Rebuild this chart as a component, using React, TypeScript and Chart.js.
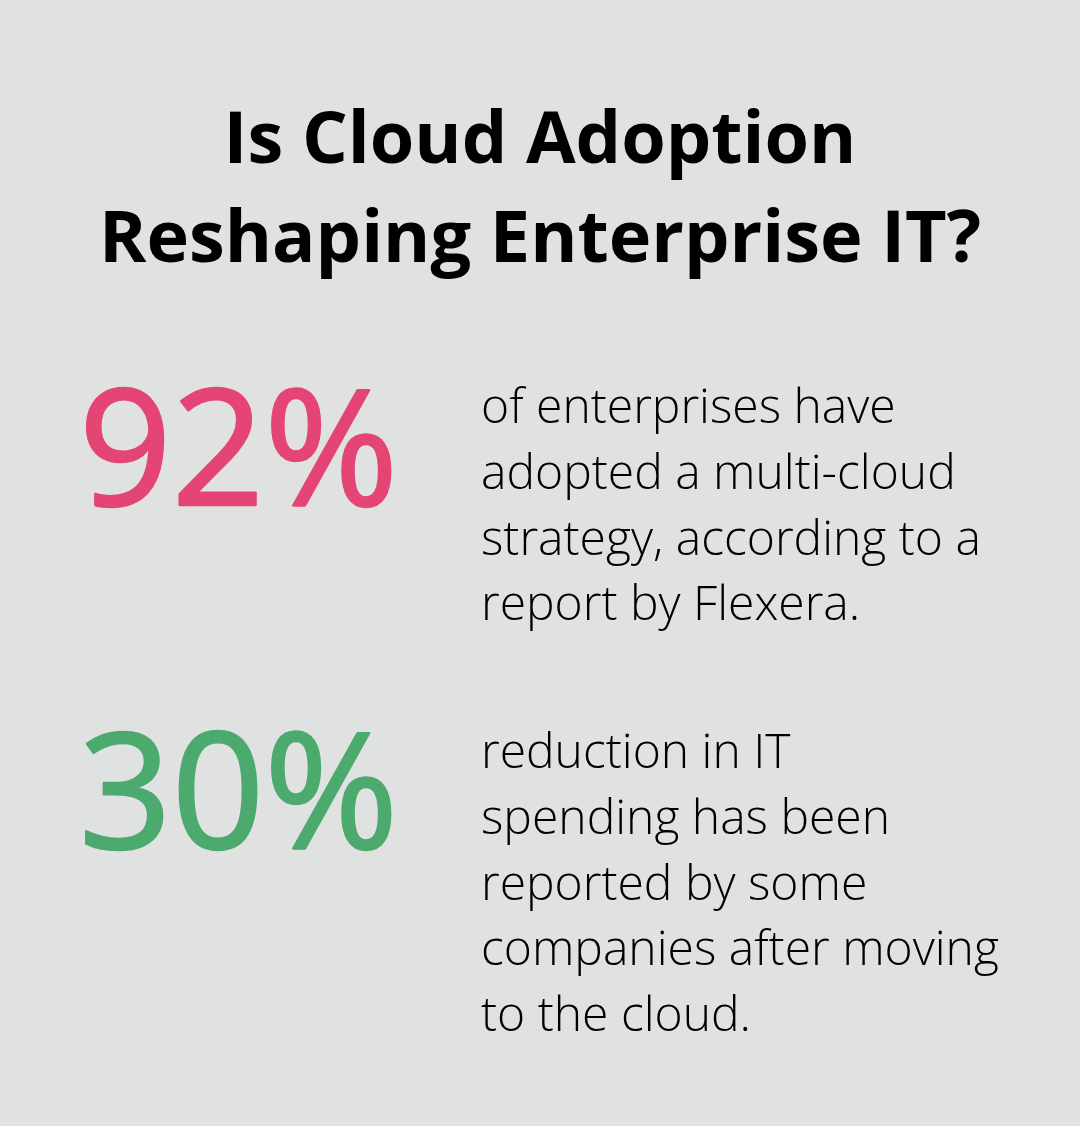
import React, { useEffect, useRef } from "react";
import { Chart, registerables } from "chart.js";

Chart.register(...registerables);

const TITLE_LINES: string[] = ["Is Cloud Adoption", "Reshaping Enterprise IT?"];
const STAT_VALUES: number[] = [92, 30];
const STAT_UNITS: string[] = ["%", "%"];
const STAT_COLORS: string[] = ["#e44574", "#4caa6e"];
const STAT_DESCRIPTIONS: string[][] = [
  ["of enterprises have", "adopted a multi-cloud", "strategy, according to a", "report by Flexera."],
  ["reduction in IT", "spending has been", "reported by some", "companies after moving", "to the cloud."],
];

const W = 1080;
const H = 1126;
const BG = "#e0e2e1";

const infographicPlugin = {
  id: "infographic",
  beforeDraw(chart: any) {
    const ctx = chart.ctx as CanvasRenderingContext2D;
    ctx.save();
    ctx.fillStyle = BG;
    ctx.fillRect(0, 0, chart.width, chart.height);
    ctx.restore();
  },
  afterDraw(chart: any) {
    const ctx = chart.ctx as CanvasRenderingContext2D;
    ctx.save();
    // Title
    ctx.fillStyle = "#000000";
    ctx.textAlign = "center";
    ctx.textBaseline = "alphabetic";
    ctx.font = "700 72px 'Open Sans'";
    const titleBase = [163, 262];
    TITLE_LINES.forEach((t, i) => ctx.fillText(t, W / 2, titleBase[i]));

    // Stats
    const statBase = [505, 848];
    const descStart = [423, 768];
    const lineGap = 65.8;
    STAT_VALUES.forEach((v, i) => {
      ctx.textAlign = "left";
      ctx.fillStyle = STAT_COLORS[i];
      ctx.strokeStyle = STAT_COLORS[i];
      ctx.lineWidth = 2.5;
      ctx.lineJoin = "round";
      ctx.font = "500 162px 'Open Sans'";
      const label = `${v}${STAT_UNITS[i]}`;
      ctx.fillText(label, 79, statBase[i]);
      ctx.strokeText(label, 79, statBase[i]);
      ctx.fillStyle = "#000000";
      ctx.font = "300 48px 'Open Sans'";
      STAT_DESCRIPTIONS[i].forEach((line, j) => {
        ctx.fillText(line, 481, descStart[i] + j * lineGap);
      });
    });
    ctx.restore();
  },
};

export default function App() {
  const canvasRef = useRef<HTMLCanvasElement | null>(null);

  useEffect(() => {
    document.body.style.margin = "0";
    document.body.style.background = BG;
    let chart: Chart | null = null;
    let cancelled = false;
    const make = () => {
      if (cancelled || !canvasRef.current) return;
      chart = new Chart(canvasRef.current, {
        type: "bar",
        data: { labels: [], datasets: [] },
        options: {
          animation: false,
          responsive: false,
          maintainAspectRatio: false,
          devicePixelRatio: 1,
          layout: { padding: 0 },
          plugins: { legend: { display: false }, tooltip: { enabled: false }, title: { display: false } },
          scales: { x: { display: false }, y: { display: false } },
        },
        plugins: [infographicPlugin],
      });
    };
    const fonts = (document as any).fonts;
    if (fonts && fonts.load) {
      Promise.all([
        fonts.load("700 72px 'Open Sans'"),
        fonts.load("500 162px 'Open Sans'"),
        fonts.load("300 48px 'Open Sans'"),
      ])
        .catch(() => {})
        .then(make);
    } else {
      make();
    }
    return () => {
      cancelled = true;
      if (chart) chart.destroy();
    };
  }, []);

  return (
    <div style={{ width: W, height: H, background: BG }}>
      <canvas ref={canvasRef} width={W} height={H} style={{ display: "block", width: W, height: H }} />
    </div>
  );
}
